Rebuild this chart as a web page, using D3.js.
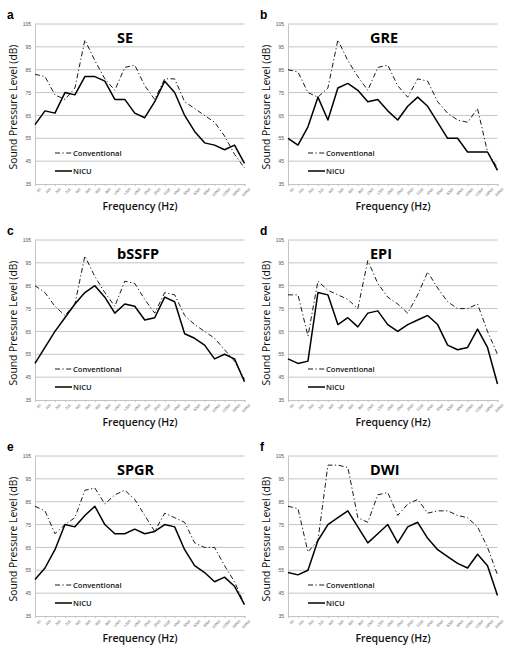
<!DOCTYPE html>
<html><head><meta charset="utf-8">
<script src="https://cdn.jsdelivr.net/npm/d3@7"></script>
<style>body{margin:0;background:#fff}svg{display:block}</style>
</head><body>
<script>
const frequencies = ["50","100","200","315","400","500","630","800","1000","1250","1600","2000","2500","3150","4000","5000","6300","8000","10000","12500","16000","20000"];
const yTicks = [35,45,55,65,75,85,95,105];
const panelLetters = ["a","b","c","d","e","f"];
const panelTitles = ["SE","GRE","bSSFP","EPI","SPGR","DWI"];
const seConventional = [83,82,74,72,77,98,89,81,76,86,87,78,72,81,81,71,68,65,62,56,48,42];
const seNicu = [61,67,66,75,74,82,82,80,72,72,66,64,71,80,75,65,58,53,52,50,52,44];
const greConventional = [85,84,75,73,77,98,89,82,76,86,87,78,73,81,80,71,66,63,62,68,49,42];
const greNicu = [55,52,60,73,63,77,79,76,71,72,67,63,69,73,69,62,55,55,49,49,49,41];
const bssfpConventional = [85,82,76,72,77,98,89,82,76,87,86,79,73,82,81,72,68,65,62,57,52,44];
const bssfpNicu = [51,58,65,71,77,82,85,80,73,77,76,70,71,80,78,64,62,59,53,55,53,43];
const epiConventional = [81,81,63,87,83,81,79,75,96,86,80,77,73,81,91,84,78,75,75,77,65,55];
const epiNicu = [53,51,52,82,81,68,71,67,73,74,68,65,68,70,72,68,59,57,58,66,58,42];
const spgrConventional = [83,81,71,75,78,90,91,84,88,90,86,79,72,80,78,76,67,65,65,57,50,40];
const spgrNicu = [51,56,64,75,74,79,83,75,71,71,73,71,72,75,74,64,57,54,50,52,48,40];
const dwiConventional = [83,82,63,68,101,101,100,78,76,88,89,79,84,86,80,81,81,79,78,74,65,53];
const dwiNicu = [54,53,55,68,75,78,81,74,67,71,75,67,74,76,69,64,61,58,56,62,57,44];
const legendLabels = ["Conventional","NICU"];

const conventionalSeries = [seConventional, greConventional, bssfpConventional, epiConventional, spgrConventional, dwiConventional];
const nicuSeries = [seNicu, greNicu, bssfpNicu, epiNicu, spgrNicu, dwiNicu];

const W = 506, H = 652;
const svg = d3.select("body").append("svg").attr("width", W).attr("height", H);

const colOffsets = [0, 253];
const rowTops = [24, 240, 456];
const plotW = 209.5, plotH = 160;
const plotLeft = 35;

const x = d3.scalePoint().domain(frequencies).range([0, plotW]);
const y = d3.scaleLinear().domain([35, 105]).range([plotH, 0]);

for (let i = 0; i < 6; i++) {
  const col = i % 2, row = Math.floor(i / 2);
  const ox = colOffsets[col], top = rowTops[row];
  const g = svg.append("g").attr("transform", `translate(${ox + plotLeft},${top})`);

  g.append("g").selectAll("line").data(yTicks.filter(d => d !== 35)).join("line")
    .attr("x1", 0).attr("x2", plotW).attr("y1", d => y(d)).attr("y2", d => y(d))
    .attr("stroke", "#c4c4c4").attr("stroke-width", 1);

  const ya = g.append("g").call(d3.axisLeft(y).tickValues(yTicks).tickSize(0).tickPadding(4));
  ya.select(".domain").attr("stroke", "#c4c4c4");
  ya.selectAll("text").attr("font-family", "Liberation Sans, Arial, sans-serif").attr("font-size", 5).attr("fill", "#555");

  const xa = g.append("g").attr("transform", `translate(0,${plotH})`)
    .call(d3.axisBottom(x).tickSize(2).tickPadding(2));
  xa.select(".domain").attr("stroke", "#c4c4c4");
  xa.selectAll(".tick line").attr("stroke", "#c4c4c4");
  xa.selectAll("text").attr("font-family", "Liberation Sans, Arial, sans-serif").attr("font-size", 3.6).attr("fill", "#555")
    .attr("text-anchor", "end").attr("dy", "0.3em")
    .attr("transform", "translate(2,2) rotate(-45)");

  const line = d3.line().x((d, j) => x(frequencies[j])).y(d => y(d));

  g.append("path").datum(conventionalSeries[i]).attr("d", line)
    .attr("fill", "none").attr("stroke", "#000").attr("stroke-width", 0.9)
    .attr("stroke-dasharray", "5,2.5,1.2,2.5");
  g.append("path").datum(nicuSeries[i]).attr("d", line)
    .attr("fill", "none").attr("stroke", "#000").attr("stroke-width", 1.5)
    .attr("stroke-linejoin", "round");

  g.append("text").attr("x", 82).attr("y", 18.5).text(panelTitles[i])
    .attr("font-family", "Open Sans, Arial, sans-serif").attr("font-weight", 700).attr("font-size", 14.5).attr("fill", "#000");

  const lg = g.append("g").attr("transform", `translate(20,129)`);
  lg.append("line").attr("x1", 0).attr("x2", 17).attr("y1", 0).attr("y2", 0)
    .attr("stroke", "#000").attr("stroke-width", 0.9).attr("stroke-dasharray", "5,2.5,1.2,2.5");
  lg.append("text").attr("x", 18).attr("y", 0).attr("dy", "0.35em").text(legendLabels[0])
    .attr("font-family", "Open Sans, Arial, sans-serif").attr("font-weight", 600).attr("font-size", 7.6).attr("fill", "#111");
  lg.append("line").attr("x1", 0).attr("x2", 17).attr("y1", 18).attr("y2", 18)
    .attr("stroke", "#000").attr("stroke-width", 1.5);
  lg.append("text").attr("x", 18).attr("y", 18).attr("dy", "0.35em").text(legendLabels[1])
    .attr("font-family", "Open Sans, Arial, sans-serif").attr("font-weight", 600).attr("font-size", 7.6).attr("fill", "#111");

  svg.append("text").attr("x", ox + 140).attr("y", top + 186)
    .text("Frequency (Hz)").attr("text-anchor", "middle")
    .attr("font-family", "Open Sans, Arial, sans-serif").attr("font-weight", 600).attr("font-size", 10.5).attr("fill", "#111");
  svg.append("text").attr("transform", `translate(${ox + 17},${top + 83}) rotate(-90)`)
    .text("Sound Pressure Level  (dB)").attr("text-anchor", "middle")
    .attr("font-family", "Open Sans, Arial, sans-serif").attr("font-size", 10.3).attr("fill", "#111");

  svg.append("text").attr("x", ox + 7).attr("y", top - 5).text(panelLetters[i])
    .attr("font-family", "Liberation Sans, Arial, sans-serif").attr("font-weight", 700).attr("font-size", 12).attr("fill", "#000");
}
</script>
</body></html>
